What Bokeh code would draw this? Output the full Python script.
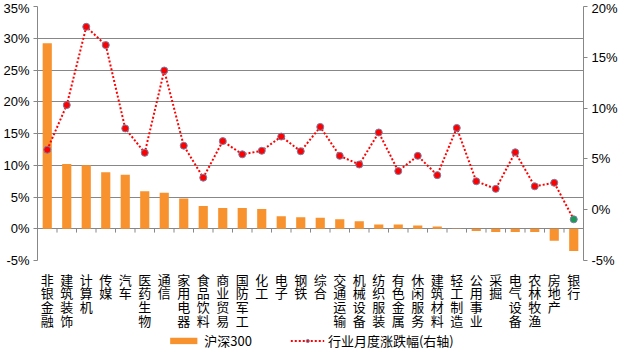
from bokeh.plotting import figure
from bokeh.layouts import column
from bokeh.models import (Range1d, LinearAxis, FixedTicker, PrintfTickFormatter,
                          Legend, LegendItem, ColumnDataSource)
from bokeh.embed import file_html
from bokeh.resources import INLINE

categories = ["非银金融", "建筑装饰", "计算机", "传媒", "汽车", "医药生物", "通信",
              "家用电器", "食品饮料", "商业贸易", "国防军工", "化工", "电子", "钢铁",
              "综合", "交通运输", "机械设备", "纺织服装", "有色金属", "休闲服务",
              "建筑材料", "轻工制造", "公用事业", "采掘", "电气设备", "农林牧渔",
              "房地产", "银行"]
hs300 = [29.2, 10.2, 10.0, 8.9, 8.5, 5.9, 5.65, 4.75, 3.6, 3.25, 3.25, 3.1, 1.95, 1.8,
         1.75, 1.5, 1.2, 0.65, 0.65, 0.5, 0.35, 0.05, -0.35, -0.5, -0.5, -0.5, -1.9, -3.5]
industry = [5.9, 10.3, 18.0, 16.2, 8.0, 5.6, 13.7, 6.3, 3.15, 6.75, 5.45, 5.8, 7.2, 5.75,
            8.15, 5.3, 4.45, 7.6, 3.8, 5.3, 3.4, 8.05, 2.8, 2.05, 5.65, 2.3, 2.65, -0.95]
left_ticks = [-5, 0, 5, 10, 15, 20, 25, 30, 35]
right_ticks = [-5, 0, 5, 10, 15, 20]
bar_label = "沪深300"
line_label = "行业月度涨跌幅(右轴)"

GRID = "#878787"
ORANGE = "#F7922F"
RED = "#FF0000"
GREEN = "#1A9A55"
MARKER_EDGE = "#7A7FA6"
NUM_FONT = "Liberation Sans"
CJK_FONT = "Noto Sans CJK SC"
STACK_FONT = "'Liberation Sans', 'Noto Sans CJK SC'"

idx = list(range(1, len(categories) + 1))
marker_colors = [RED if v >= 0 else GREEN for v in industry]
src = ColumnDataSource(dict(x=idx, bar=hs300, line=industry, mc=marker_colors))

p = figure(width=620, height=332, output_backend="svg", toolbar_location=None,
           x_range=Range1d(0.5, len(categories) + 0.5),
           y_range=Range1d(left_ticks[0], left_ticks[-1]),
           min_border_left=36, min_border_right=34, min_border_top=6,
           min_border_bottom=60)
p.outline_line_color = None
p.background_fill_color = "white"
p.extra_y_ranges = {"right": Range1d(right_ticks[0], right_ticks[-1])}

# Left axis
ya = p.yaxis[0]
ya.ticker = FixedTicker(ticks=left_ticks)
ya.formatter = PrintfTickFormatter(format="%d%%")
ya.axis_line_color = GRID
ya.major_tick_line_color = GRID
ya.major_tick_out = 4
ya.major_tick_in = 0
ya.minor_tick_line_color = None
ya.major_label_text_font = NUM_FONT
ya.major_label_text_font_size = "13px"
ya.major_label_text_color = "#000000"
ya.major_label_standoff = 4

# Right axis
ra = LinearAxis(y_range_name="right", ticker=FixedTicker(ticks=right_ticks),
                formatter=PrintfTickFormatter(format="%d%%"))
ra.axis_line_color = GRID
ra.major_tick_line_color = GRID
ra.major_tick_out = 4
ra.major_tick_in = 0
ra.minor_tick_line_color = None
ra.major_label_text_font = NUM_FONT
ra.major_label_text_font_size = "13px"
ra.major_label_text_color = "#000000"
ra.major_label_standoff = 4
p.add_layout(ra, "right")

# X axis: labels only (vertical characters)
xa = p.xaxis[0]
xa.ticker = FixedTicker(ticks=idx)
xa.major_label_overrides = {i: "\n".join(c) for i, c in zip(idx, categories)}
xa.axis_line_color = None
xa.major_tick_line_color = None
xa.minor_tick_line_color = None
xa.major_label_text_font = STACK_FONT
xa.major_label_text_font_size = "13px"
xa.major_label_text_line_height = 0.93
xa.major_label_text_color = "#000000"
xa.major_label_standoff = 6
xa.major_label_orientation = "horizontal"

p.xgrid.grid_line_color = None
p.ygrid.grid_line_color = GRID
p.ygrid.grid_line_width = 1
p.ygrid.ticker = FixedTicker(ticks=left_ticks)

# Bars
bars = p.vbar(x="x", top="bar", bottom=0, width=0.47, source=src,
              fill_color=ORANGE, line_color=None)

# Category tick marks on the zero line
bounds = [i + 0.5 for i in range(0, len(categories) + 1)]
p.segment(x0=bounds, y0=[0] * len(bounds), x1=bounds, y1=[-0.6] * len(bounds),
          line_color=GRID, line_width=1)

# Line on right axis
ln = p.line(x="x", y="line", source=src, y_range_name="right",
            line_color=RED, line_width=2, line_dash="2 2")
sc = p.scatter(x="x", y="line", source=src, y_range_name="right", size=7,
               fill_color="mc", line_color=MARKER_EDGE, line_width=1)

# Legend strip below the chart (same data, viewed out of range so only the legend shows)
lg = figure(width=620, height=16, output_backend="svg", toolbar_location=None,
            x_range=Range1d(1000, 1001), y_range=Range1d(1000, 1001),
            x_axis_location=None, y_axis_location=None,
            min_border_left=0, min_border_right=0, min_border_top=0,
            min_border_bottom=0)
lg.outline_line_color = None
lg.grid.visible = False
lb = lg.vbar(x="x", top="bar", width=0.47, source=src, fill_color=ORANGE,
             line_color=None)
ll = lg.line(x="x", y="line", source=src, line_color=RED, line_width=2,
             line_dash="2 2")
ls = lg.scatter(x="x", y="line", source=src, size=7, fill_color=RED,
                line_color=MARKER_EDGE, line_width=1)
legend = Legend(items=[LegendItem(label=bar_label, renderers=[lb]),
                       LegendItem(label=line_label, renderers=[ll, ls])],
                orientation="horizontal", location="center",
                glyph_width=34, glyph_height=8, label_standoff=4, spacing=38,
                padding=0, margin=0, border_line_color=None,
                background_fill_alpha=0,
                label_text_font=CJK_FONT, label_text_font_size="13px",
                label_text_color="#000000")
lg.add_layout(legend, "center")

page = column(p, lg, spacing=0)
open("out.html", "w").write(file_html(page, INLINE))
